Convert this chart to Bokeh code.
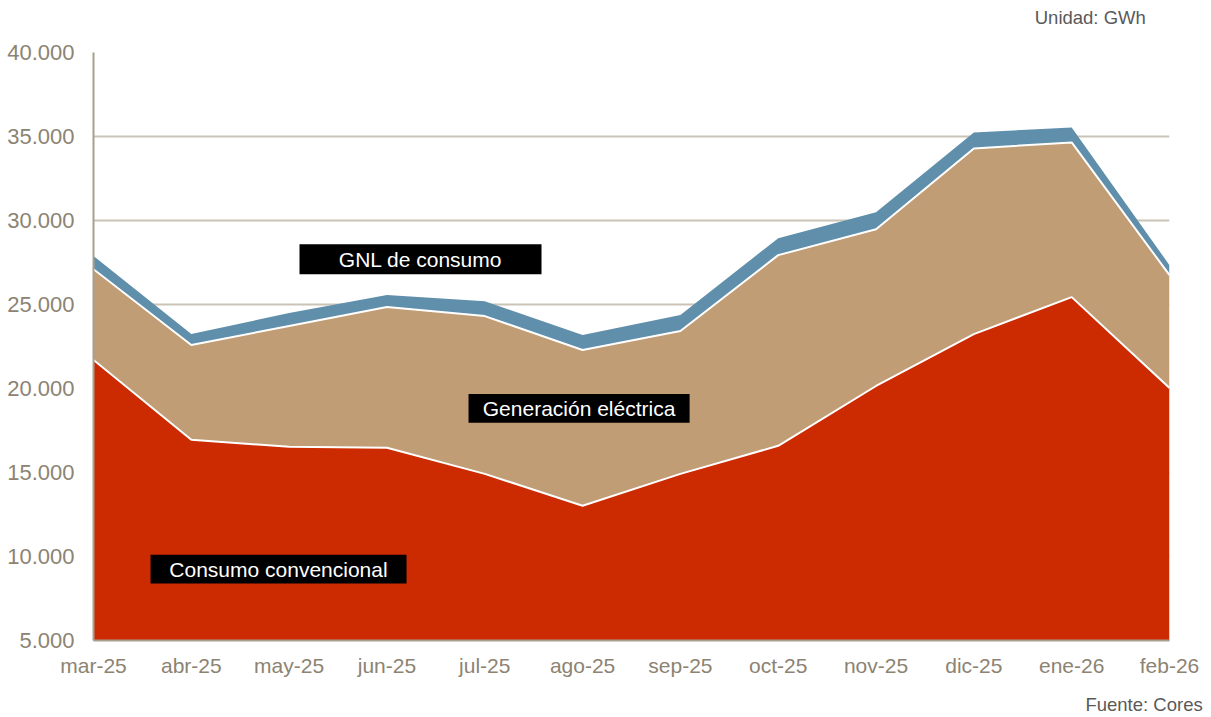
import numpy as np
from bokeh.plotting import figure
from bokeh.models import FixedTicker, LinearAxis, ColumnDataSource
from bokeh.core.properties import value
from bokeh.embed import file_html
from bokeh.resources import INLINE

months = ["mar-25", "abr-25", "may-25", "jun-25", "jul-25", "ago-25",
          "sep-25", "oct-25", "nov-25", "dic-25", "ene-26", "feb-26"]
consumo_convencional = [21700, 16950, 16530, 16470, 14920, 13020,
                        14920, 16590, 20150, 23240, 25440, 20030]
generacion_electrica = [5400, 5640, 7190, 8380, 9390, 9270,
                        8500, 11350, 9330, 11050, 9210, 6720]
gnl_consumo = [780, 650, 770, 710, 890, 890, 950, 1010, 1010, 950, 890, 590]
y_ticks = [5000, 10000, 15000, 20000, 25000, 30000, 35000, 40000]
y_tick_labels = ["5.000", "10.000", "15.000", "20.000", "25.000", "30.000", "35.000", "40.000"]

FONT = "Liberation Sans"
TICK_COLOR = "#8C8372"

x = list(range(len(months)))
src = ColumnDataSource(dict(x=x, conv=consumo_convencional,
                            gen=generacion_electrica, gnl=gnl_consumo))

p = figure(width=1211, height=717, x_range=(0, 11), y_range=(5000, 40000),
           output_backend="svg", toolbar_location=None,
           min_border_left=93, min_border_right=42, min_border_top=52,
           min_border_bottom=76)
p.outline_line_color = None
p.background_fill_color = "white"

p.varea_stack(["conv", "gen", "gnl"], x="x", source=src,
              color=["#CC2A00", "#C19D75", "#5F8FAA"])

top1 = np.array(consumo_convencional)
top2 = top1 + np.array(generacion_electrica)
p.line(x, top1, line_color="white", line_width=2)
p.line(x, top2, line_color="white", line_width=2)

# axes
p.xaxis.ticker = FixedTicker(ticks=x)
p.xaxis.major_label_overrides = {i: m for i, m in enumerate(months)}
p.yaxis.ticker = FixedTicker(ticks=y_ticks)
p.yaxis.major_label_overrides = {t: l for t, l in zip(y_ticks, y_tick_labels)}
for ax in (p.xaxis, p.yaxis):
    ax.major_tick_line_color = None
    ax.minor_tick_line_color = None
    ax.axis_line_color = "#A79F90"
    ax.axis_line_width = 2
    ax.major_label_text_font = FONT
    ax.major_label_text_color = TICK_COLOR
p.xaxis.major_label_text_font_size = "21px"
p.yaxis.major_label_text_font_size = "22px"
p.yaxis.major_label_standoff = 13
p.xaxis.major_label_standoff = 7
p.xgrid.grid_line_color = None
p.ygrid.grid_line_color = "#CAC3B6"
p.ygrid.grid_line_width = 2

# label boxes
boxes = dict(
    left=[2.106, 3.834, 0.583], right=[4.58, 6.094, 3.2],
    bottom=[26806, 17954, 8387], top=[28589, 19677, 10110],
    cx=[3.343, 4.964, 1.891], cy=[27697, 18815, 9249],
    txt=["GNL de consumo", "Generación eléctrica", "Consumo convencional"])
bsrc = ColumnDataSource(boxes)
p.quad(left="left", right="right", bottom="bottom", top="top", source=bsrc,
       fill_color="black", line_color=None)
p.text(x="cx", y="cy", text="txt", source=bsrc, text_color="white",
       text_font=value(FONT), text_font_size="21px",
       text_align="center", text_baseline="middle")


def note_axis(pos, text, standoff):
    ax = LinearAxis(ticker=FixedTicker(ticks=[pos]),
                    major_label_overrides={pos: text},
                    axis_line_color=None, major_tick_line_color=None,
                    minor_tick_line_color=None,
                    major_label_standoff=standoff,
                    major_label_text_font=FONT,
                    major_label_text_font_size="18.5px",
                    major_label_text_color="#595959")
    return ax


p.add_layout(note_axis(10.19, "Unidad: GWh", 19), "above")
p.add_layout(note_axis(10.74, "Fuente: Cores", 8), "below")

open("out.html", "w").write(file_html(p, INLINE))
